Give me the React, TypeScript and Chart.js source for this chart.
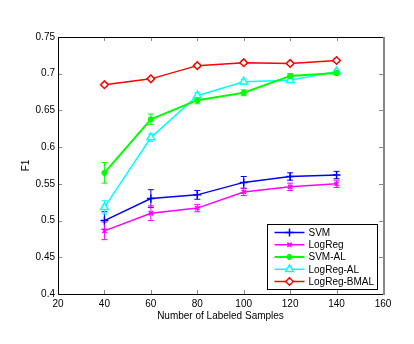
import React, { useEffect, useRef } from 'react';
import { Chart, registerables } from 'chart.js';
import { drawPoint } from 'chart.js/helpers';

Chart.register(...registerables);

const samples = [40, 60, 80, 100, 120, 140];

const svm = [0.5, 0.53, 0.535, 0.552, 0.56, 0.562];
const svmErr = [0.012, 0.012, 0.006, 0.008, 0.005, 0.005];

const logReg = [0.486, 0.51, 0.517, 0.539, 0.546, 0.55];
const logRegErr = [0.012, 0.01, 0.005, 0.005, 0.005, 0.005];

const svmAL = [0.565, 0.638, 0.664, 0.674, 0.697, 0.701];
const svmALErr = [0.014, 0.007, 0.005, 0.004, 0.003, 0.003];

const logRegAL = [0.518, 0.613, 0.67, 0.689, 0.691, 0.703];
const logRegALErr = [0.009, 0.005, 0.004, 0.003, 0.003, 0.003];

const bmal = [0.685, 0.693, 0.711, 0.715, 0.714, 0.718];
const bmalErr = [0.002, 0.002, 0.002, 0.002, 0.002, 0.002];

const seriesNames = ['SVM', 'LogReg', 'SVM-AL', 'LogReg-AL', 'LogReg-BMAL'];
const xTicks = [20, 40, 60, 80, 100, 120, 140, 160];
const yTicks = [0.4, 0.45, 0.5, 0.55, 0.6, 0.65, 0.7, 0.75];

const FONT = "'Liberation Sans', Arial, Helvetica, sans-serif";

const styles = [
  { color: '#0000ff', marker: 'cross', radius: 4, width: 1.5, mWidth: 1.5 },
  { color: '#ff00ff', marker: 'crossRot', radius: 3, width: 1.5, mWidth: 1.5 },
  { color: '#00ff00', marker: 'star', radius: 3, width: 2, mWidth: 2 },
  { color: '#00ffff', marker: 'triangle', radius: 4.5, width: 1.5, mWidth: 1.5 },
  { color: '#ff0000', marker: 'rectRot', radius: 3.8, width: 1.5, mWidth: 1.5 },
];

const values = [svm, logReg, svmAL, logRegAL, bmal];
const errors = [svmErr, logRegErr, svmALErr, logRegALErr, bmalErr];

const decorPlugin = {
  id: 'decor',
  beforeDatasetsDraw(chart: any) {
    const { ctx, scales } = chart;
    const xs = scales.x;
    const ys = scales.y;
    ctx.save();
    values.forEach((vals, i) => {
      const st = styles[i];
      ctx.strokeStyle = st.color;
      ctx.lineWidth = 1;
      vals.forEach((v, j) => {
        const e = errors[i][j];
        const px = xs.getPixelForValue(samples[j]);
        const top = ys.getPixelForValue(v + e);
        const bot = ys.getPixelForValue(v - e);
        ctx.beginPath();
        ctx.moveTo(px, top);
        ctx.lineTo(px, bot);
        ctx.moveTo(px - 3, top);
        ctx.lineTo(px + 3, top);
        ctx.moveTo(px - 3, bot);
        ctx.lineTo(px + 3, bot);
        ctx.stroke();
      });
    });
    ctx.restore();
  },
  afterDraw(chart: any) {
    const { ctx, chartArea: a, scales } = chart;
    const xs = scales.x;
    const ys = scales.y;
    ctx.save();
    ctx.strokeStyle = '#888';
    ctx.lineWidth = 1;
    ctx.beginPath();
    xTicks.forEach((t) => {
      const px = Math.round(xs.getPixelForValue(t)) + 0.5;
      ctx.moveTo(px, a.bottom);
      ctx.lineTo(px, a.bottom - 4);
      ctx.moveTo(px, a.top);
      ctx.lineTo(px, a.top + 4);
    });
    yTicks.forEach((t) => {
      const py = Math.round(ys.getPixelForValue(t)) + 0.5;
      ctx.moveTo(a.left, py);
      ctx.lineTo(a.left + 4, py);
      ctx.moveTo(a.right, py);
      ctx.lineTo(a.right - 4, py);
    });
    ctx.stroke();
    ctx.strokeStyle = '#000';
    ctx.lineWidth = 1;
    ctx.beginPath();
    ctx.moveTo(Math.round(a.right) + 0.5, Math.round(a.top) + 0.5);
    ctx.lineTo(Math.round(a.left) + 0.5, Math.round(a.top) + 0.5);
    ctx.lineTo(Math.round(a.left) + 0.5, Math.round(a.bottom) + 0.5);
    ctx.lineTo(Math.round(a.right) + 0.5, Math.round(a.bottom) + 0.5);
    ctx.stroke();
    ctx.strokeStyle = '#888';
    ctx.lineWidth = 2;
    ctx.beginPath();
    ctx.moveTo(Math.round(a.right) + 1, Math.round(a.top));
    ctx.lineTo(Math.round(a.right) + 1, Math.round(a.bottom) + 1);
    ctx.stroke();

    const lw = 110;
    const lh = 65;
    const lx = Math.round(a.right - 6 - lw) + 0.5;
    const ly = Math.round(a.bottom - 5 - lh) + 0.5;
    ctx.fillStyle = '#fff';
    ctx.fillRect(lx, ly, lw, lh);
    ctx.strokeStyle = '#000';
    ctx.lineWidth = 1;
    ctx.strokeRect(lx, ly, lw, lh);
    ctx.font = `10px ${FONT}`;
    ctx.textBaseline = 'middle';
    ctx.textAlign = 'left';
    seriesNames.forEach((name, i) => {
      const st = styles[i];
      const y = ly + 8 + i * 12.25;
      ctx.strokeStyle = st.color;
      ctx.lineWidth = st.width;
      ctx.beginPath();
      ctx.moveTo(lx + 7, y);
      ctx.lineTo(lx + 37, y);
      ctx.stroke();
      ctx.fillStyle = '#fff';
      ctx.lineWidth = st.mWidth;
      drawPoint(ctx, { pointStyle: st.marker, rotation: 0, radius: st.radius, borderWidth: st.mWidth }, lx + 22, y);
      ctx.fillStyle = '#000';
      ctx.fillText(name, lx + 41, y + 0.5);
    });
    ctx.restore();
  },
};

export default function App() {
  const ref = useRef<HTMLCanvasElement | null>(null);
  useEffect(() => {
    document.body.style.margin = '0';
    const canvas = ref.current;
    if (!canvas) return;
    const chart = new Chart(canvas, {
      type: 'line',
      data: {
        datasets: values.map((vals, i) => ({
          label: seriesNames[i],
          data: vals.map((v, j) => ({ x: samples[j], y: v })),
          borderColor: styles[i].color,
          backgroundColor: '#ffffff',
          borderWidth: styles[i].width,
          pointStyle: styles[i].marker as any,
          pointRadius: styles[i].radius,
          pointBorderWidth: styles[i].mWidth,
          pointBorderColor: styles[i].color,
          pointBackgroundColor: '#ffffff',
          tension: 0,
          fill: false,
        })),
      },
      options: {
        responsive: false,
        animation: false,
        layout: { padding: { left: 10, top: 37, right: 31, bottom: 0 } },
        plugins: { legend: { display: false }, tooltip: { enabled: false } },
        scales: {
          x: {
            type: 'linear',
            min: 20,
            max: 160,
            afterBuildTicks: (s: any) => {
              s.ticks = xTicks.map((v) => ({ value: v }));
            },
            afterFit: (s: any) => {
              s.height = 50;
            },
            grid: { display: false, drawTicks: false },
            border: { display: false },
            ticks: {
              padding: 4,
              color: '#000',
              font: { family: FONT, size: 10 },
              maxRotation: 0,
              autoSkip: false,
            },
            title: {
              display: true,
              text: 'Number of Labeled Samples',
              color: '#000',
              font: { family: FONT, size: 10 },
              padding: { top: 0, bottom: 22 },
            },
          },
          y: {
            type: 'linear',
            min: 0.4,
            max: 0.75,
            afterBuildTicks: (s: any) => {
              s.ticks = yTicks.map((v) => ({ value: v }));
            },
            afterFit: (s: any) => {
              s.width = 48;
            },
            grid: { display: false, drawTicks: false },
            border: { display: false },
            ticks: {
              padding: 3,
              color: '#000',
              font: { family: FONT, size: 10 },
              autoSkip: false,
              callback: (v: any) => String(Number(Number(v).toFixed(2))),
            },
            title: {
              display: true,
              text: 'F1',
              color: '#000',
              font: { family: FONT, size: 10 },
              padding: { top: 10, bottom: 0 },
            },
          },
        },
      },
      plugins: [decorPlugin],
    });
    return () => chart.destroy();
  }, []);
  return (
    <div style={{ width: 414, height: 344, background: '#fff' }}>
      <canvas ref={ref} width={414} height={344} style={{ display: 'block', width: 414, height: 344 }} />
    </div>
  );
}
